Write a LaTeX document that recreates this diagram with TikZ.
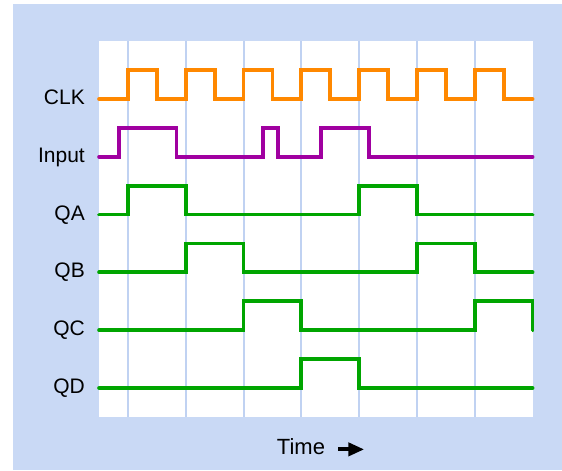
\documentclass[tikz,border=0pt]{standalone}
\usepackage{fontspec}
\setmainfont{Liberation Sans}
\usetikzlibrary{arrows.meta}
\definecolor{panelblue}{RGB}{201,217,245}
\definecolor{gridblue}{RGB}{192,210,242}
\definecolor{clkorange}{RGB}{255,136,0}
\definecolor{inpurple}{RGB}{160,0,160}
\definecolor{qgreen}{RGB}{0,165,0}

\begin{document}
\begin{tikzpicture}[x=57.8pt, y=57.8pt,
        wave/.style={line width=3.8pt, line cap=round, line join=miter},
        lbl/.style={anchor=base east, inner sep=0pt, yshift=-5.5pt, font=\fontsize{21}{25}\selectfont}]
        \useasboundingbox (-2.2145,-1.436) rectangle (7.509,6.713);

        % Panel and plot area
        \fill[panelblue] (-1.99,-1.42) rectangle (7.509,6.643);
        \fill[white] (-0.5,-0.5) rectangle (7,6);
        \foreach \k in {0,...,6}
            \draw[gridblue, line width=2pt] (\k,-0.5) -- (\k,6);

        % Signal names
        \node[lbl] (clk) at (-0.744,5) {CLK};
        \node[lbl] (inp) at (-0.744,4) {Input};
        \node[lbl] (qa) at (-0.744,3) {QA};
        \node[lbl] (qb) at (-0.744,2) {QB};
        \node[lbl] (qc) at (-0.744,1) {QC};
        \node[lbl] (qd) at (-0.744,0) {QD};

        % Clock
        \draw[wave, clkorange] (-0.5,5)
            foreach \k in {0,...,6} { -- (\k,5) -- (\k,5.5) -- (\k+0.5,5.5) -- (\k+0.5,5) }
            -- (7,5);

        % Input
        \draw[wave, inpurple] (-0.5,4) -- (-0.16,4) -- (-0.16,4.5) -- (0.84,4.5) -- (0.84,4)
            -- (2.34,4) -- (2.34,4.5) -- (2.6,4.5) -- (2.6,4)
            -- (3.34,4) -- (3.34,4.5) -- (4.17,4.5) -- (4.17,4) -- (7,4);

        % Outputs
        \draw[wave, qgreen] (-0.5,3) -- (0,3) -- (0,3.5) -- (1,3.5) -- (1,3)
            -- (4,3) -- (4,3.5) -- (5,3.5) -- (5,3) -- (7,3);
        \draw[wave, qgreen] (-0.5,2) -- (1,2) -- (1,2.5) -- (2,2.5) -- (2,2)
            -- (5,2) -- (5,2.5) -- (6,2.5) -- (6,2) -- (7,2);
        \draw[wave, qgreen] (-0.5,1) -- (2,1) -- (2,1.5) -- (3,1.5) -- (3,1)
            -- (6,1) -- (6,1.5) -- (7,1.5) -- (7,1);
        \draw[wave, qgreen] (-0.5,0) -- (3,0) -- (3,0.5) -- (4,0.5) -- (4,0) -- (7,0);

        % Time axis label
        \node[anchor=base west, inner sep=0pt, font=\fontsize{22}{26}\selectfont] (time) at (2.574,-1.159) {Time};
        \coordinate (tail) at (3.638,-1.062);
        \coordinate (tip) at (4.088,-1.062);
        \draw[line width=4pt, -{Triangle[length=16pt, width=13pt]}] (tail) -- (tip);
\end{tikzpicture}
\end{document}
